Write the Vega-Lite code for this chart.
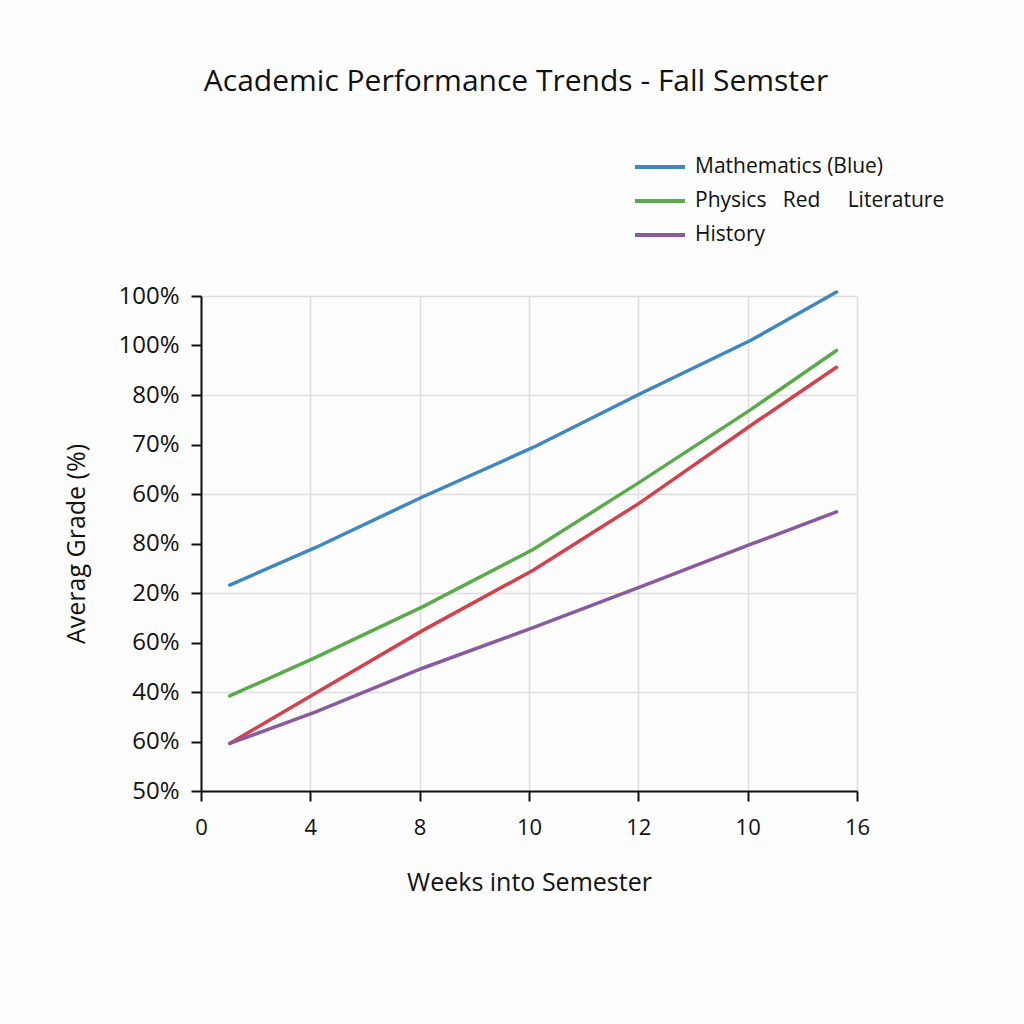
{
  "$schema": "https://vega.github.io/schema/vega-lite/v6.json",
  "width": 656,
  "height": 495,
  "autosize": "none",
  "padding": {"left": 201, "top": 296, "right": 167, "bottom": 233},
  "background": "#fdfdfd",
  "title": {
    "text": "Academic Performance Trends - Fall Semster",
    "fontSize": 30,
    "fontWeight": "normal",
    "font": "Open Sans",
    "color": "#111111",
    "anchor": "middle",
    "dx": -13,
    "offset": 53
  },
  "data": {
    "values": [
      {"subject": "Mathematics", "week": 0.7, "grade": 70.8},
      {"subject": "Mathematics", "week": 2.8, "grade": 74.6},
      {"subject": "Mathematics", "week": 5.4, "grade": 79.7},
      {"subject": "Mathematics", "week": 8.1, "grade": 84.7},
      {"subject": "Mathematics", "week": 10.7, "grade": 90.1},
      {"subject": "Mathematics", "week": 13.4, "grade": 95.5},
      {"subject": "Mathematics", "week": 15.5, "grade": 100.4},
      {"subject": "Physics", "week": 0.7, "grade": 59.6},
      {"subject": "Physics", "week": 2.8, "grade": 63.5},
      {"subject": "Physics", "week": 5.4, "grade": 68.6},
      {"subject": "Physics", "week": 8.1, "grade": 74.4},
      {"subject": "Physics", "week": 10.7, "grade": 81.2},
      {"subject": "Physics", "week": 13.4, "grade": 88.5},
      {"subject": "Physics", "week": 15.5, "grade": 94.5},
      {"subject": "Literature", "week": 0.7, "grade": 54.8},
      {"subject": "Literature", "week": 2.8, "grade": 59.9},
      {"subject": "Literature", "week": 5.4, "grade": 66.2},
      {"subject": "Literature", "week": 8.1, "grade": 72.3},
      {"subject": "Literature", "week": 10.7, "grade": 79.1},
      {"subject": "Literature", "week": 13.4, "grade": 86.9},
      {"subject": "Literature", "week": 15.5, "grade": 92.8},
      {"subject": "History", "week": 0.7, "grade": 54.8},
      {"subject": "History", "week": 2.8, "grade": 58.0},
      {"subject": "History", "week": 5.4, "grade": 62.4},
      {"subject": "History", "week": 8.1, "grade": 66.5},
      {"subject": "History", "week": 10.7, "grade": 70.6},
      {"subject": "History", "week": 13.4, "grade": 74.9},
      {"subject": "History", "week": 15.5, "grade": 78.2}
    ]
  },
  "mark": {"type": "line", "strokeWidth": 3.5, "strokeCap": "round"},
  "encoding": {
    "x": {
      "field": "week",
      "type": "quantitative",
      "scale": {"domain": [0, 16], "nice": false, "zero": false},
      "axis": {
        "title": "Weeks into Semester",
        "titleFontSize": 25,
        "titleFontWeight": "normal",
        "titleColor": "#111111",
        "titlePadding": 32,
        "values": [0, 2.6667, 5.3333, 8, 10.6667, 13.3333, 16],
        "labelExpr": "['0','4','8','10','12','10','16'][round(datum.value * 6 / 16)]",
        "labelFlush": false,
        "labelFontSize": 22,
        "labelColor": "#111111",
        "labelPadding": 16,
        "domainColor": "#111111",
        "domainWidth": 2,
        "tickColor": "#111111",
        "tickWidth": 2,
        "tickSize": 10,
        "grid": true,
        "gridColor": "#dddddd",
        "gridWidth": 1.5
      }
    },
    "y": {
      "field": "grade",
      "type": "quantitative",
      "scale": {"domain": [50, 100], "nice": false, "zero": false},
      "axis": {
        "title": "Averag Grade (%)",
        "titleFontSize": 25,
        "titleFontWeight": "normal",
        "titleColor": "#111111",
        "titlePadding": 28,
        "values": [50, 55, 60, 65, 70, 75, 80, 85, 90, 95, 100],
        "labelExpr": "['50%','60%','40%','60%','20%','80%','60%','70%','80%','100%','100%'][round((datum.value - 50) / 5)]",
        "labelFontSize": 24,
        "labelColor": "#111111",
        "labelPadding": 12,
        "domainColor": "#111111",
        "domainWidth": 2,
        "tickColor": "#111111",
        "tickWidth": 2,
        "tickSize": 10,
        "grid": true,
        "gridColor": "#dddddd",
        "gridWidth": 1.5,
        "gridOpacity": {"condition": {"test": "datum.value % 10 == 0", "value": 1}, "value": 0}
      }
    },
    "color": {
      "field": "subject",
      "type": "nominal",
      "scale": {
        "domain": ["Mathematics", "Physics", "Literature", "History"],
        "range": ["#3f87c1", "#5aaa4c", "#d2414c", "#8a5aa0"]
      },
      "legend": {
        "orient": "none",
        "legendX": 432,
        "legendY": -146,
        "title": null,
        "values": ["Mathematics", "Physics", "History"],
        "labelExpr": "datum.label == 'Mathematics' ? 'Mathematics (Blue)' : datum.label == 'Physics' ? 'Physics\u00a0\u00a0\u00a0Red\u00a0\u00a0\u00a0\u00a0\u00a0Literature' : datum.label",
        "labelFontSize": 21,
        "labelColor": "#111111",
        "labelLimit": 400,
        "symbolType": "stroke",
        "symbolSize": 2500,
        "symbolStrokeWidth": 4,
        "clipHeight": 34,
        "rowPadding": 0,
        "labelOffset": 8
      }
    }
  },
  "config": {
    "font": "Open Sans",
    "view": {"stroke": null}
  }
}
